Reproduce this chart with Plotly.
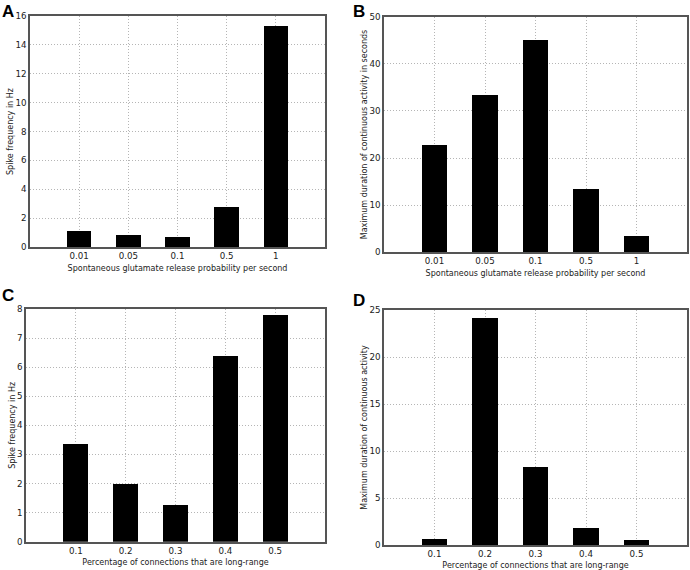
import plotly.graph_objects as go

# ---- data ----
release_prob = ["0.01", "0.05", "0.1", "0.5", "1"]
spike_freq_A = [1.12, 0.83, 0.66, 2.75, 15.3]
max_dur_B = [22.8, 33.5, 45.1, 13.4, 3.6]
long_range = ["0.1", "0.2", "0.3", "0.4", "0.5"]
spike_freq_C = [3.37, 1.98, 1.25, 6.37, 7.8]
max_dur_D = [0.67, 24.2, 8.3, 1.77, 0.5]

xlabel_AB = "Spontaneous glutamate release probability per second"
xlabel_CD = "Percentage of connections that are long-range"
ylabel_A = "Spike frequency in Hz"
ylabel_B = "Maximum duration of continuous activity in seconds"
ylabel_C = "Spike frequency in Hz"
ylabel_D = "Maximum duration of continuous activity"

FONT = "DejaVu Sans"
FRAME = "#555555"
GRID = "#b5b5b5"
TXT = "#222222"

fig = go.Figure()
panels = [
    ("x", "y", release_prob, spike_freq_A),
    ("x2", "y2", release_prob, max_dur_B),
    ("x3", "y3", long_range, spike_freq_C),
    ("x4", "y4", long_range, max_dur_D),
]
for xa, ya, cats, vals in panels:
    fig.add_trace(go.Bar(x=cats, y=vals, xaxis=xa, yaxis=ya, width=0.5,
                         marker=dict(color="black", line=dict(width=0)),
                         showlegend=False, hoverinfo="skip"))

W, H = 690, 570
def dom_x(a, b):
    return [a / W, b / W]
def dom_y(top, bot):
    return [(H - bot) / H, (H - top) / H]

common_x = dict(type="category", range=[-1, 5], showline=True, mirror=True,
                linecolor=FRAME, linewidth=1.5, showgrid=True, gridcolor=GRID,
                griddash="1px,2px", gridwidth=1, ticks="", automargin=False,
                tickfont=dict(family=FONT, size=8.7, color=TXT),
                title_font=dict(family=FONT, size=8, color=TXT), title_standoff=5)
common_y = dict(showline=True, mirror=True, linecolor=FRAME, linewidth=1.5,
                showgrid=True, gridcolor=GRID, griddash="1px,2px", gridwidth=1,
                zeroline=False, ticks="", automargin=False,
                tickfont=dict(family=FONT, size=8.7, color=TXT),
                title_font=dict(family=FONT, size=8, color=TXT), title_standoff=0)

fig.update_layout(
    width=W, height=H, margin=dict(l=0, r=0, t=0, b=0, autoexpand=False),
    paper_bgcolor="white", plot_bgcolor="white", bargap=0,
    xaxis=dict(common_x, domain=dom_x(30, 325), anchor="y", title_text=xlabel_AB),
    yaxis=dict(common_y, domain=dom_y(16, 247), anchor="x", range=[0, 16], dtick=2,
               title_text=ylabel_A),
    xaxis2=dict(common_x, domain=dom_x(384, 687), anchor="y2", title_text=xlabel_AB),
    yaxis2=dict(common_y, domain=dom_y(16.7, 252.3), anchor="x2", range=[0, 50], dtick=10,
                title_text=ylabel_B),
    xaxis3=dict(common_x, domain=dom_x(26, 325), anchor="y3", title_text=xlabel_CD),
    yaxis3=dict(common_y, domain=dom_y(309, 541.7), anchor="x3", range=[0, 8], dtick=1,
                title_text=ylabel_C),
    xaxis4=dict(common_x, domain=dom_x(384, 687), anchor="y4", title_text=xlabel_CD),
    yaxis4=dict(common_y, domain=dom_y(310, 545), anchor="x4", range=[0, 25], dtick=5,
                title_text=ylabel_D),
)

for letter, px, py in [("A", 0, 0), ("B", 351, 0), ("C", 0, 284), ("D", 351, 289)]:
    fig.add_annotation(text="<b>%s</b>" % letter, xref="paper", yref="paper",
                       x=px / W, y=(H - py) / H, xanchor="left", yanchor="top",
                       showarrow=False, font=dict(family="Liberation Sans", size=17, color="black"))

fig.write_html("out.html", config={"displayModeBar": False},
               post_script="document.body.style.margin='0';document.body.style.padding='0';")
